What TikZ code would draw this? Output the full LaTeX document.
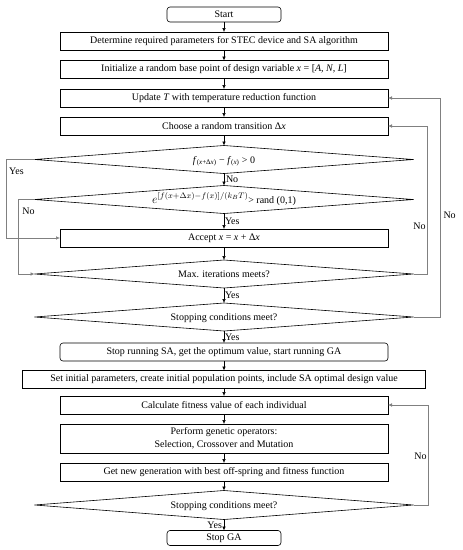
\documentclass[tikz,border=0pt]{standalone}
\usepackage{fontspec}
\setmainfont{Liberation Serif}
\usepackage{amsmath}
\usepackage{xcolor}
\usetikzlibrary{positioning, arrows.meta, calc, shapes.geometric}

\begin{document}
\begin{tikzpicture}[
    x=1pt, y=1pt,
    font=\fontsize{10}{13}\selectfont,
    every node/.style={outer sep=0pt},
    procbox/.style={rectangle, draw=black, line width=0.6pt, minimum width=328pt, minimum height=18pt, inner sep=1pt, align=center},
    termbox/.style={rectangle, rounded corners=3pt, draw=black, line width=0.6pt, minimum width=114pt, minimum height=15pt, inner sep=1pt},
    decision/.style={diamond, draw=black, line width=0.6pt, shape aspect=13.5, inner sep=0pt, text height=7pt, text depth=0pt, minimum width=379pt, minimum height=28pt},
    flow/.style={-{Latex[length=4pt,width=3.5pt]}, line width=0.5pt, black},
    loopline/.style={-{Latex[length=4pt,width=3.5pt]}, line width=0.5pt, gray},
]
\useasboundingbox (0,0) rectangle (463,-550);
\node[termbox](start) at (224,-14.5){Start};
\node[procbox](param)[below = 10pt of start]{Determine required parameters for STEC device and SA algorithm};
\node[procbox](init)[below = 10.5pt of param]{Initialize a random base point of design variable \textit{x} = [\textit{A, N, L}]};
\node[procbox](update)[below = 10.5pt of init]{Update \textit{T} with temperature reduction function};
\node[procbox](trans)[below = 10pt of update]{Choose a random transition Δ\textit{x}};
\node[decision](dfit)[below = 10.5pt of trans]{\textit{f}\textsubscript{(\textit{x}+Δ\textit{x})} − \textit{f}\textsubscript{(\textit{x})} > 0};
\node[decision](dexp)[below = 12pt of dfit]{{\fontsize{11.5}{13}\selectfont$e^{[f(x+\Delta x)-f(x)]/(k_BT)}$}> rand (0,1)};
\node[procbox](accept)[below = 15.5pt of dexp]{Accept \textit{x} = \textit{x} + Δ\textit{x}};
\node[decision](dmax)[below = 13pt of accept]{Max. iterations meets?};
\node[decision](dstopsa)[below = 15pt of dmax]{Stopping conditions meet?};
\node[procbox, rounded corners=3pt](stopsa)[below = 12pt of dstopsa]{Stop running SA, get the optimum value, start running GA};
\node[procbox, minimum width=403pt](setpop)[below = 9.5pt of stopsa]{Set initial parameters, create initial population points, include SA optimal design value};
\node[procbox](fitness)[below = 7.5pt of setpop]{Calculate fitness value of each individual};
\node[procbox, minimum height=29pt](genop)[below = 10pt of fitness]{Perform genetic operators:\\Selection, Crossover and Mutation};
\node[procbox](newgen)[below = 10pt of genop]{Get new generation with best off-spring and fitness function};
\node[decision, minimum height=29pt](dstopga)[below = 9.5pt of newgen]{Stopping conditions meet?};
\node[termbox](stopga)[below = 11pt of dstopga]{Stop GA};

% main flow
\draw[flow] (start) -- (param);
\draw[flow] (param) -- (init);
\draw[flow] (init) -- (update);
\draw[flow] (update) -- (trans);
\draw[flow] (trans) -- (dfit);
\draw[flow] (dfit) -- node[right, inner sep=2pt]{No} (dexp);
\draw[flow] (dexp) -- node[right, inner sep=1pt]{Yes} (accept);
\draw[flow] (accept) -- (dmax);
\draw[flow] (dmax) -- node[right, inner sep=1pt]{Yes} (dstopsa);
\draw[flow] (dstopsa) -- node[right, inner sep=1pt]{Yes} (stopsa);
\draw[flow] (stopsa) -- (setpop);
\draw[flow] (setpop) -- (fitness);
\draw[flow] (fitness) -- (genop);
\draw[flow] (genop) -- (newgen);
\draw[flow] (newgen) -- (dstopga);
\draw[flow] (dstopga) -- node[left, inner sep=2pt]{Yes} (stopga);

% loops
\draw[loopline] (dfit.west) -- ++(-28,0) coordinate(yesleft) |- (accept.west);
\node at ($(yesleft)+(10,-12)$){Yes};
\draw[loopline] (dexp.west) -- ++(-16,0) coordinate(noleft) |- (dmax.west);
\node at ($(noleft)+(10,-12)$){No};
\draw[loopline] (dmax.east) -- ++(14,0) coordinate(noright) |- (trans.east);
\node[left, inner sep=2pt] at ($(noright)+(0,48)$){No};
\draw[loopline] (dstopsa.east) -- ++(27,0) coordinate(nofar) |- (update.east);
\node[right, inner sep=3pt] at ($(nofar)+(0,102)$){No};
\draw[loopline] (dstopga.east) -- ++(15,0) coordinate(noga) |- (fitness.east);
\node[left, inner sep=2pt] at ($(noga)+(0,49)$){No};
\end{tikzpicture}
\end{document}
